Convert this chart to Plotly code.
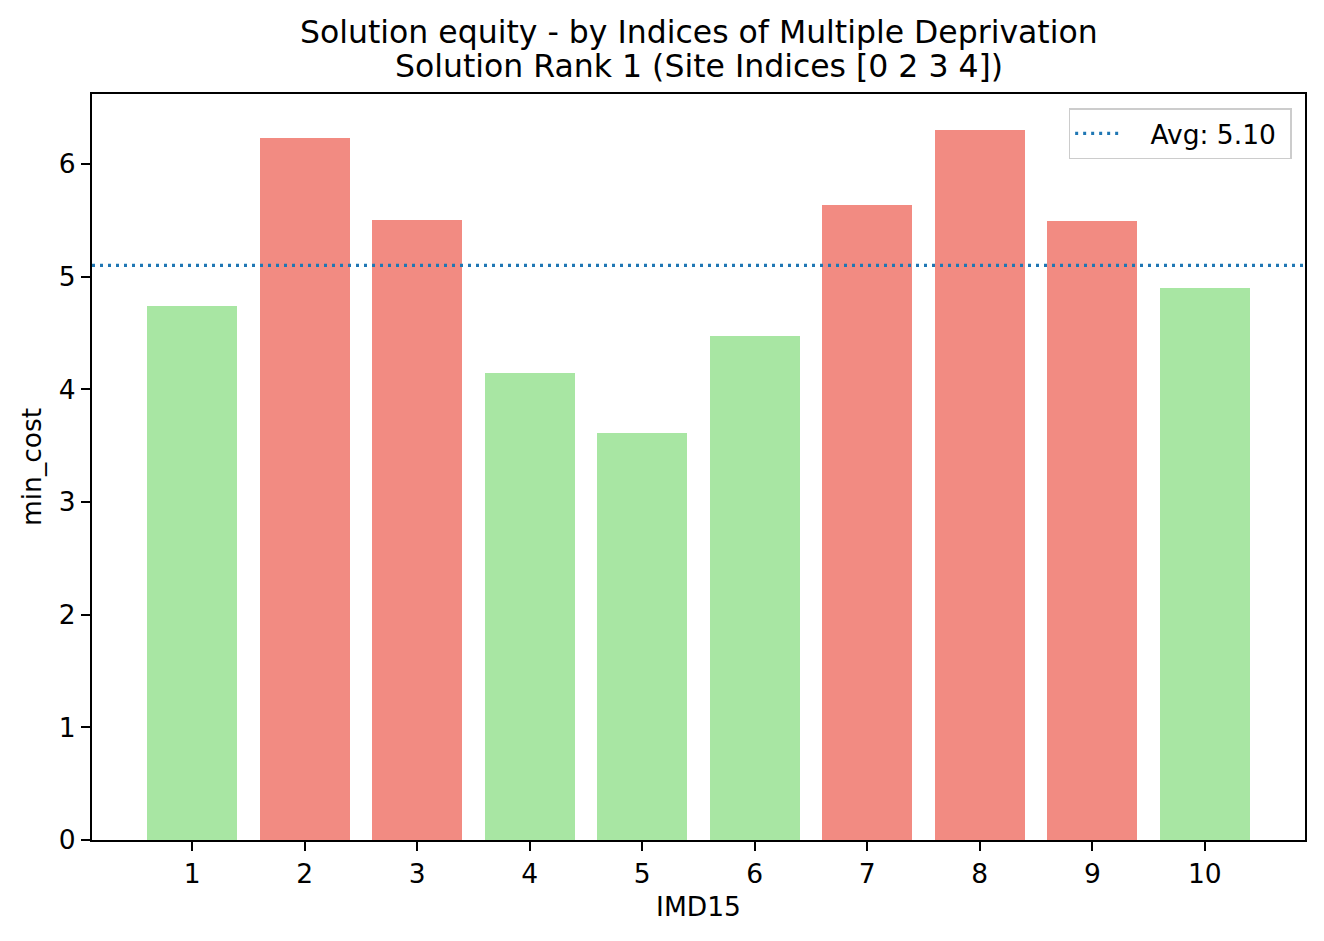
import plotly.graph_objects as go

categories = [1, 2, 3, 4, 5, 6, 7, 8, 9, 10]
min_cost = [4.74, 6.23, 5.50, 4.145, 3.61, 4.47, 5.64, 6.305, 5.49, 4.90]
avg_value = 5.10
avg_label = "Avg: 5.10"
title_lines = ["Solution equity - by Indices of Multiple Deprivation",
               "Solution Rank 1 (Site Indices [0 2 3 4])"]

GREEN = "#A8E6A3"
RED = "#F28B82"
colors = [RED if v > avg_value else GREEN for v in min_cost]

FONT = "DejaVu Sans"
W, H = 1316, 933  # page body has an 8px margin
ML, MR, MT, MB = 84, 19, 86, 101
PH = H - MT - MB

fig = go.Figure()
fig.add_trace(go.Bar(
    x=categories, y=min_cost, width=0.8,
    marker=dict(color=colors, line=dict(width=0)),
    showlegend=False, hoverinfo="x+y",
))
fig.add_trace(go.Scatter(
    x=[None], y=[None], mode="lines", name="\u00a0\u00a0\u00a0" + avg_label + "\u00a0",
    line=dict(color="#1f77b4", width=3.3, dash="3px,5px"),
))
fig.add_shape(type="line", xref="paper", x0=0, x1=1, yref="y", y0=avg_value, y1=avg_value,
              line=dict(color="#1f77b4", width=3.3, dash="3px,5px"), layer="above")

# title lines as annotations (page y centers ~32 and ~66)
for line, page_y in zip(title_lines, [32, 66]):
    fig_y = page_y - 8
    fig.add_annotation(
        text=line, xref="paper", yref="paper", x=0.5, xanchor="center",
        y=1 + (MT - fig_y) / PH, yanchor="middle", showarrow=False,
        font=dict(family=FONT, size=31.5, color="black"),
    )

axis_common = dict(
    showline=True, linecolor="black", linewidth=2, mirror=True,
    ticks="outside", ticklen=9, tickwidth=2, tickcolor="black",
    showgrid=False, zeroline=False,
    tickfont=dict(family=FONT, size=26.5, color="black"),
)

fig.update_layout(
    width=W, height=H,
    paper_bgcolor="white", plot_bgcolor="white",
    margin=dict(l=ML, r=MR, t=MT, b=MB),
    font=dict(family=FONT, color="black"),
    xaxis=dict(
        **axis_common, range=[0.11, 10.89], tickmode="array",
        tickvals=categories, ticktext=[str(c) for c in categories],
        title=dict(text="IMD15", font=dict(family=FONT, size=26.5, color="black"), standoff=10),
    ),
    yaxis=dict(
        **axis_common, range=[0, 6.621], tickmode="array",
        tickvals=[0, 1, 2, 3, 4, 5, 6],
        title=dict(text="min_cost", font=dict(family=FONT, size=26.5, color="black"), standoff=10),
    ),
    legend=dict(
        x=0.989, xanchor="right", y=0.981, yanchor="top",
        bgcolor="rgba(255,255,255,0.8)", bordercolor="#cccccc", borderwidth=1.5,
        font=dict(family=FONT, size=26.5, color="black"),
        itemwidth=45,
    ),
    bargap=0,
)

fig.write_html("out.html")
